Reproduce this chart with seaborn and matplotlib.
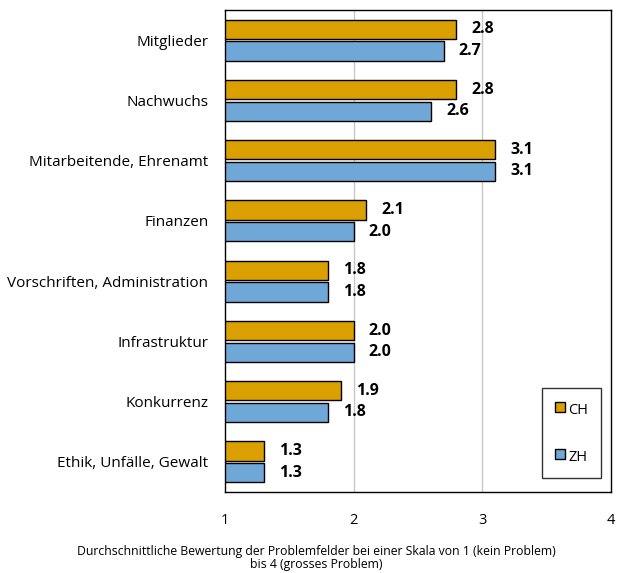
import pandas as pd
import numpy as np
import matplotlib.pyplot as plt
import seaborn as sns
from matplotlib.lines import Line2D

# Daten
kategorien = ['Mitglieder', 'Nachwuchs', 'Mitarbeitende, Ehrenamt', 'Finanzen',
              'Vorschriften, Administration', 'Infrastruktur', 'Konkurrenz',
              'Ethik, Unfälle, Gewalt']
werte_ch = [2.8, 2.8, 3.1, 2.1, 1.8, 2.0, 1.9, 1.3]
werte_zh = [2.7, 2.6, 3.1, 2.0, 1.8, 2.0, 1.8, 1.3]
gruppen = ['CH', 'ZH']
farben = ['#DAA000', '#6FA7D6']

data = pd.DataFrame({
    'Kategorie': kategorien * 2,
    'Wert': werte_ch + werte_zh,
    'Region': ['CH'] * len(kategorien) + ['ZH'] * len(kategorien),
})

sns.set_style('white')
plt.rcParams['font.family'] = ['Open Sans', 'DejaVu Sans']
plt.rcParams['text.color'] = 'black'
plt.rcParams['xtick.color'] = 'black'
plt.rcParams['ytick.color'] = 'black'

fig = plt.figure(figsize=(6.17, 5.73), dpi=100)
ax = fig.add_axes([0.3647, 0.1414, 0.625, 0.8411])

sns.barplot(data=data, y='Kategorie', x='Wert', hue='Region', hue_order=gruppen,
            palette=farben, saturation=1, orient='h', width=0.72, gap=0.12,
            edgecolor='black', linewidth=1, ax=ax, legend=False)

# Beschriftung der Balken
for cont in ax.containers:
    ax.bar_label(cont, fmt='%.1f', padding=11, fontweight='bold', fontsize=11.5)

ax.set_xlim(1, 4)
ax.set_ylim(7.5, -0.5)
ax.set_xticks([1, 2, 3, 4])
ax.set_xticklabels(['1', '2', '3', '4'], fontsize=10.5)
ax.tick_params(axis='x', length=0, pad=15)
ax.tick_params(axis='y', length=0, pad=12, labelsize=11)
for v in [2, 3]:
    ax.axvline(v, color='#C8C8C8', linewidth=1, zorder=0)
ax.set_axisbelow(True)
for s in ax.spines.values():
    s.set_color('black')
    s.set_linewidth(1)

ax.set_ylabel('')
ax.set_xlabel('')
fig.text(0.513, 0.003, 'Durchschnittliche Bewertung der Problemfelder bei einer Skala von 1 (kein Problem)\n'
         'bis 4 (grosses Problem)', fontsize=8.8, ha='center', va='bottom', linespacing=1.0)

handles = [Line2D([], [], marker='s', linestyle='none', markersize=7,
                  markerfacecolor=f, markeredgecolor='black', markeredgewidth=1)
           for f in farben]
leg = ax.legend(handles, gruppen, loc='lower right', bbox_to_anchor=(0.975, 0.03),
                frameon=True, fancybox=False, edgecolor='black', fontsize=10.5,
                handlelength=0.8, handleheight=1.5, handletextpad=0.2,
                labelspacing=2.0, borderpad=0.85, borderaxespad=0)
leg.get_frame().set_linewidth(1)

fig.savefig('out.png', dpi=100)
